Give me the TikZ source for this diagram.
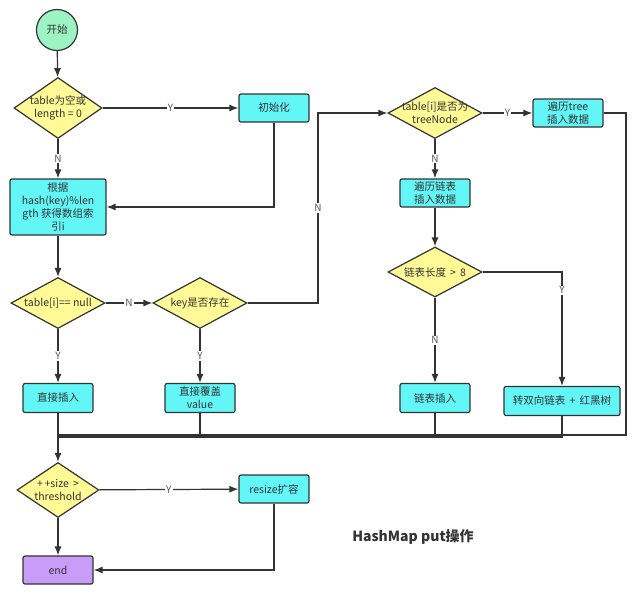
\documentclass[tikz,border=0pt]{standalone}
\usepackage{fontspec}
\setmainfont{Noto Sans CJK SC}
\usetikzlibrary{shapes,arrows,arrows.meta,positioning,calc}
\definecolor{linec}{HTML}{333333}
\definecolor{txtc}{HTML}{333333}
\definecolor{lblc}{HTML}{555555}
\definecolor{boxc}{HTML}{63F6F7}
\definecolor{diac}{HTML}{FFFA95}
\definecolor{startc}{HTML}{9CF3C3}
\definecolor{endc}{HTML}{C99CF8}

\begin{document}
\begin{tikzpicture}[x=1pt,y=-1pt,line width=1.2pt,
	dtext/.style={text=txtc,font=\fontsize{10.5}{13}\selectfont,align=center,inner sep=0pt},
	proc/.style={dtext,draw=linec,rectangle,rounded corners=2pt,fill=boxc,
		minimum width=70pt,minimum height=28pt,inner sep=1pt},
	decision/.style={draw=linec,diamond,fill=diac,inner sep=0pt,
		minimum width=94pt,minimum height=51pt},
	lbl/.style={fill=white,text=lblc,inner sep=1pt,font=\fontsize{10}{12}\selectfont},
	flow/.style={draw=linec,-{Latex[length=9pt,width=7pt]}}]
	\useasboundingbox (0,0) rectangle (636,600);

	\node[dtext,draw=linec,circle,fill=startc,minimum size=41pt] (start) at (57,30) {开始};
	\node[decision,minimum width=88pt,minimum height=61pt,
		label={[dtext]center:table为空或\\length = 0}] (empty) at (58,108) {};
	\node[proc] (init) at (274,108) {初始化};
	\node[proc,minimum width=96pt,minimum height=56pt] (hash) at (58,207)
		{根据\\hash(key)\%len\\gth 获得数组索\\引i};
	\node[decision,label={[dtext]center:table[i]== null}] (isnull) at (58,303) {};
	\node[decision,label={[dtext]center:key是否存在}] (haskey) at (200,303) {};
	\node[proc,minimum height=29pt] (insert) at (58,398) {直接插入};
	\node[proc,minimum height=29pt] (cover) at (200,398) {直接覆盖\\value};
	\node[decision,label={[dtext]center:table[i]是否为\\treeNode}] (istree) at (435,113) {};
	\node[proc] (treeins) at (568,113) {遍历tree\\插入数据};
	\node[proc] (listwalk) at (435,193) {遍历链表\\插入数据};
	\node[decision,minimum height=50pt,label={[dtext]center:链表长度 \,>\, 8}] (toolong) at (435,272) {};
	\node[proc,minimum height=29pt] (listins) at (435,398) {链表插入};
	\node[proc,minimum width=116pt,minimum height=29pt] (tored) at (562,401) {转双向链表 \,+\, 红黑树};
	\node[decision,minimum width=82pt,minimum height=55pt,
		label={[dtext]center:+\,+size \,>\\threshold}] (size) at (58,490) {};
	\node[proc] (resize) at (274,489) {resize扩容};
	\node[proc,fill=endc] (end) at (58,570) {end};
	\node[text=txtc,font=\fontsize{14}{16}\selectfont\bfseries] (title) at (413,537) {HashMap put操作};

	\coordinate (jn) at (318,0);
	\coordinate (mg) at (58,437);
	\coordinate (rx) at (626,435);

	\draw[flow] (start) -- (empty);
	\draw[flow] (empty) -- node[lbl]{Y} (init);
	\draw[flow] (empty) -- node[lbl]{N} (hash);
	\draw[flow] (init.south) |- (hash.east);
	\draw[flow] (hash) -- (isnull);
	\draw[flow] (isnull) -- node[lbl]{N} (haskey);
	\draw[flow] (isnull) -- node[lbl]{Y} (insert);
	\draw[flow] (haskey) -- node[lbl]{Y} (cover);
	\draw[flow] (haskey.east) -- (haskey.east -| jn) -- node[lbl]{N} (jn |- istree.west) -- (istree.west);
	\draw[flow] (istree) -- node[lbl]{Y} (treeins);
	\draw[flow] (istree) -- node[lbl]{N} (listwalk);
	\draw[flow] (listwalk) -- (toolong);
	\draw[flow] (toolong) -- node[lbl]{N} (listins);
	\draw[flow] (toolong.east) -- (toolong.east -| tored) -- node[lbl,pos=0.16]{Y} (tored.north);
	\draw[draw=linec] (treeins.east) -| (rx) -- (rx -| mg);
	\draw[draw=linec] (tored.south) -- (tored.south |- mg) -- (mg);
	\draw[draw=linec] (cover.south) -- (cover.south |- mg);
	\draw[draw=linec] (listins.south) -- (listins.south |- mg);
	\draw[flow] (insert) -- (size);
	\draw[flow] (size) -- node[lbl]{Y} (resize);
	\draw[flow] (size) -- (end);
	\draw[flow] (resize.south) |- (end.east);
\end{tikzpicture}
\end{document}
